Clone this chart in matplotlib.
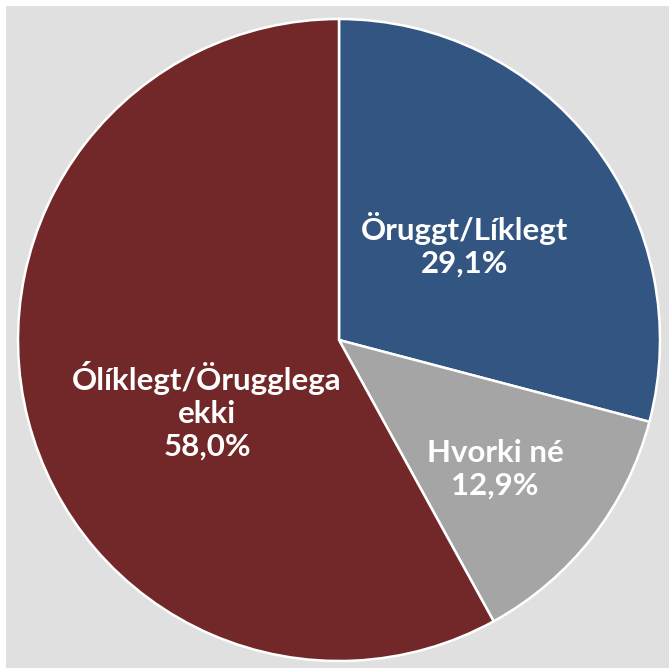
import matplotlib
matplotlib.use("Agg")
import matplotlib.pyplot as plt
from matplotlib.patches import Rectangle

categories = ["Öruggt/Líklegt", "Hvorki né", "Ólíklegt/Örugglega\nekki"]
values = [29.1, 12.9, 58.0]
colors = ["#325582", "#a5a5a5", "#722828"]

W, H = 669, 668
fig = plt.figure(figsize=(W / 100, H / 100), dpi=100, facecolor="white")
ax = fig.add_axes([0, 0, 1, 1])
ax.set_xlim(0, W)
ax.set_ylim(0, H)
ax.set_aspect("equal")
ax.axis("off")

ax.add_patch(Rectangle((6, 0), W - 6, H - 6, facecolor="#e0e0e0", edgecolor="none", zorder=0))

cx, cy, r = 339, H - 340, 321
ax.pie(values, colors=colors, startangle=90, counterclock=False,
       center=(cx, cy), radius=r, frame=True,
       wedgeprops=dict(edgecolor="white", linewidth=1.8))
ax.set_xlim(0, W)
ax.set_ylim(0, H)
ax.axis("off")

label_pos = [(465, 245), (495, 469), (207, 411)]
for cat, v, (x, y) in zip(categories, values, label_pos):
    txt = f"{cat}\n{v:.1f}%".replace(".", ",")
    ax.text(x, H - y, txt, ha="center", va="center", color="white",
            fontsize=22.5, fontweight="bold", family=["Lato", "DejaVu Sans"],
            linespacing=1.2, zorder=5)

fig.savefig("out.png", dpi=100, facecolor="white")
